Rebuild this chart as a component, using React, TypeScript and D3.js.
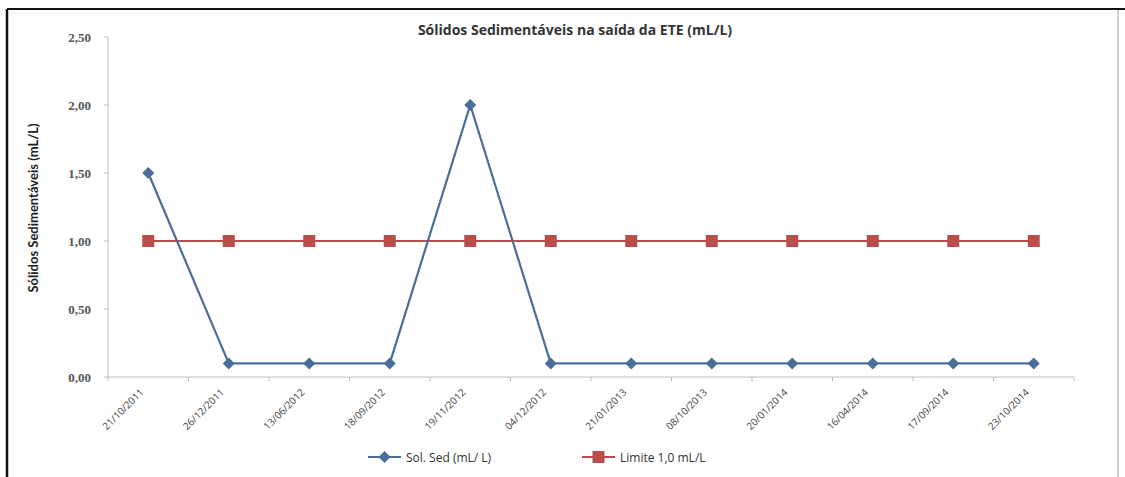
import React from "react";
import * as d3 from "d3";

const categories = [
  "21/10/2011", "26/12/2011", "13/06/2012", "18/09/2012", "19/11/2012", "04/12/2012",
  "21/01/2013", "08/10/2013", "20/01/2014", "16/04/2014", "17/09/2014", "23/10/2014",
];
const solSed = [1.5, 0.1, 0.1, 0.1, 2.0, 0.1, 0.1, 0.1, 0.1, 0.1, 0.1, 0.1];
const limite = [1.0, 1.0, 1.0, 1.0, 1.0, 1.0, 1.0, 1.0, 1.0, 1.0, 1.0, 1.0];
const yTicks = [0, 0.5, 1.0, 1.5, 2.0, 2.5];
const seriesNames = ["Sol. Sed (mL/ L)", "Limite 1,0 mL/L"];

const W = 1125, H = 477;
const left = 108, right = 1074, top = 37, bottom = 377;
const blue = "#4a6e99";
const red = "#b94d4a";

export default function App() {
  const x = d3.scaleBand<string>().domain(categories).range([left, right]);
  const y = d3.scaleLinear().domain([0, 2.5]).range([bottom, top]);
  const cx = (c: string) => (x(c) as number) + x.bandwidth() / 2;
  const line = d3.line<number>().x((_, i) => cx(categories[i])).y((d) => y(d));
  const fmt = (v: number) => d3.format(".2f")(v).replace(".", ",");
  const diamond = "M0,-6L6,0L0,6L-6,0Z";
  const tickPos = d3.range(categories.length + 1).map((i) => left + i * x.bandwidth());

  return (
    <svg width={W} height={H} style={{ position: "absolute", left: 0, top: 0, background: "#fff" }}>
      {/* frame */}
      <line x1={7} y1={9} x2={1125} y2={9} stroke="#111" strokeWidth={2} />
      <line x1={7} y1={9} x2={7} y2={477} stroke="#111" strokeWidth={2.5} />
      <line x1={1118} y1={10} x2={1118} y2={477} stroke="#d0d0d0" strokeWidth={2} />

      {/* title */}
      <text x={575} y={35} textAnchor="middle" fontFamily="Open Sans, sans-serif" fontWeight="bold" fontSize={14} fill="#333">
        Sólidos Sedimentáveis na saída da ETE (mL/L)
      </text>

      {/* y axis */}
      <line x1={left} y1={top} x2={left} y2={bottom} stroke="#bdbdbd" strokeWidth={1} />
      {yTicks.map((t) => (
        <g key={t}>
          <line x1={left - 4} x2={left} y1={y(t)} y2={y(t)} stroke="#bdbdbd" />
          <text x={91} y={y(t) + 4.5} textAnchor="end" fontFamily="Liberation Serif, serif" fontWeight="bold" fontSize={13} fill="#555">
            {fmt(t)}
          </text>
        </g>
      ))}
      <text
        transform={`translate(38,208) rotate(-90)`}
        textAnchor="middle"
        fontFamily="Lato, sans-serif"
        fontSize={13}
        fontWeight="bold"
        fill="#222"
      >
        Sólidos Sedimentáveis (mL/L)
      </text>

      {/* x axis */}
      <line x1={left} y1={bottom} x2={right} y2={bottom} stroke="#bdbdbd" strokeWidth={1} />
      {tickPos.map((p, i) => (
        <line key={i} x1={p} x2={p} y1={bottom} y2={bottom + 4} stroke="#bdbdbd" />
      ))}
      {categories.map((c) => (
        <text
          key={c}
          transform={`translate(${cx(c) - 4},${393}) rotate(-45)`}
          textAnchor="end"
          fontFamily="Open Sans, sans-serif"
          fontSize={10}
          fill="#444"
        >
          {c}
        </text>
      ))}

      {/* limite series */}
      <path d={line(limite) as string} fill="none" stroke={red} strokeWidth={2.2} />
      {limite.map((v, i) => (
        <rect key={i} x={cx(categories[i]) - 6} y={y(v) - 6} width={12} height={12} fill={red} />
      ))}

      {/* sol sed series */}
      <path d={line(solSed) as string} fill="none" stroke={blue} strokeWidth={2.2} />
      {solSed.map((v, i) => (
        <path key={i} d={diamond} transform={`translate(${cx(categories[i])},${y(v)})`} fill={blue} />
      ))}

      {/* legend */}
      <line x1={368} x2={401} y1={457} y2={457} stroke={blue} strokeWidth={2.2} />
      <path d={diamond} transform="translate(384.5,457)" fill={blue} />
      <text x={406} y={461.5} fontFamily="Open Sans, sans-serif" fontSize={12} fill="#333">{seriesNames[0]}</text>
      <line x1={582} x2={615} y1={457} y2={457} stroke={red} strokeWidth={2.2} />
      <rect x={592.5} y={451} width={12} height={12} fill={red} />
      <text x={620} y={461.5} fontFamily="Open Sans, sans-serif" fontSize={12} fill="#333">{seriesNames[1]}</text>
    </svg>
  );
}
